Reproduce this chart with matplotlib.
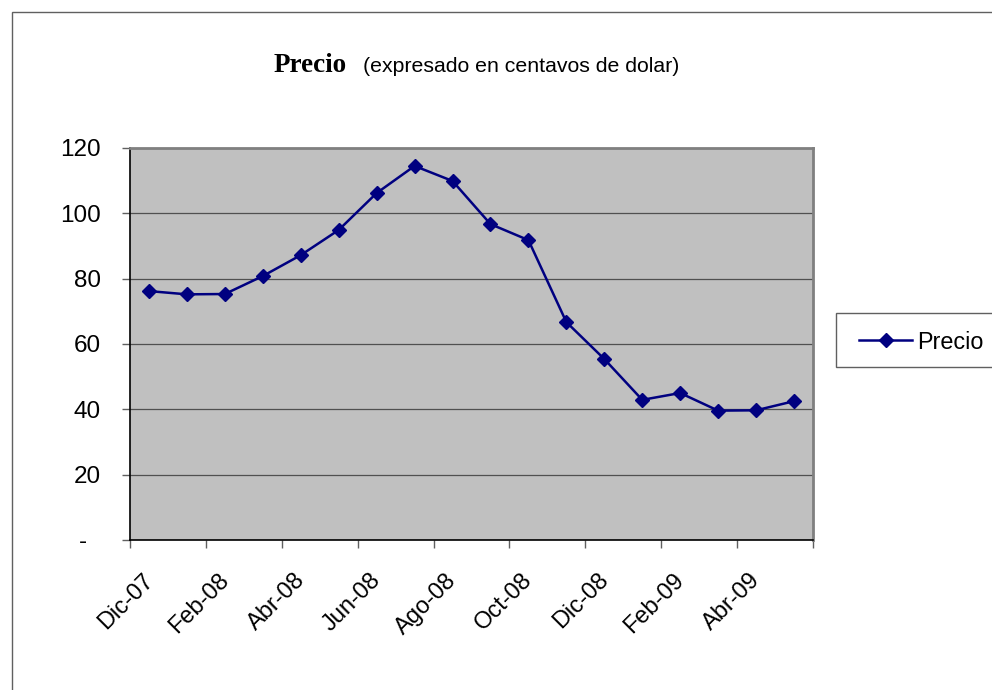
import matplotlib
matplotlib.use("Agg")
import matplotlib.pyplot as plt
import matplotlib.transforms as mtransforms
from matplotlib.patches import Rectangle
from matplotlib.lines import Line2D

# Data
months = ["Dic-07", "Ene-08", "Feb-08", "Mar-08", "Abr-08", "May-08", "Jun-08", "Jul-08",
          "Ago-08", "Sep-08", "Oct-08", "Nov-08", "Dic-08", "Ene-09", "Feb-09", "Mar-09",
          "Abr-09", "May-09"]
precio = [76.2, 75.2, 75.3, 80.8, 87.2, 94.9, 106.2, 114.5, 109.9, 96.7, 91.8, 66.7,
          55.4, 42.9, 45.0, 39.6, 39.7, 42.5]
y_ticks = [0, 20, 40, 60, 80, 100, 120]
y_labels = ["-  ", "20", "40", "60", "80", "100", "120"]
x_tick_labels = ["Dic-07", "Feb-08", "Abr-08", "Jun-08", "Ago-08", "Oct-08", "Dic-08", "Feb-09", "Abr-09"]

W, H = 992, 690
fig = plt.figure(figsize=(W / 100, H / 100), dpi=100)
fig.patch.set_facecolor("white")

# outer chart border (extends beyond right/bottom)
fig.add_artist(Rectangle((12 / W, -0.05), 1.1, (H - 12) / H + 0.05, transform=fig.transFigure,
                         fill=False, edgecolor="#606060", linewidth=1.0))

left, right, top, bottom = 130, 813, 148, 540
ax = fig.add_axes([left / W, (H - bottom) / H, (right - left) / W, (bottom - top) / H])
ax.set_facecolor("#C0C0C0")

n = len(precio)
xs = [i + 0.5 for i in range(n)]
ax.plot(xs, precio, color="#000080", linewidth=1.8, marker="D", markersize=7,
        markerfacecolor="#000080", markeredgecolor="#000080", zorder=3, clip_on=False)

ax.set_xlim(0, n)
ax.set_ylim(0, 120)
ax.set_yticks(y_ticks)
ax.set_yticklabels(y_labels)
ax.yaxis.grid(True, color="#505050", linewidth=0.9)
ax.set_axisbelow(True)

ax.set_xticks(list(range(0, n + 1, 2)))
ax.set_xticklabels(x_tick_labels + [""])

for s in ["top", "right"]:
    ax.spines[s].set_color("#808080")
    ax.spines[s].set_linewidth(2.0)
for s in ["left", "bottom"]:
    ax.spines[s].set_color("black")
    ax.spines[s].set_linewidth(1.2)

ax.tick_params(axis="both", direction="out", length=6, width=1, color="#606060",
               labelsize=17.5, labelcolor="black")
ax.tick_params(axis="y", pad=15)
for lab in ax.get_yticklabels():
    lab.set_fontfamily("Liberation Sans")

offset = mtransforms.ScaledTranslation(12 / 100, -16 / 100, fig.dpi_scale_trans)
for lab in ax.get_xticklabels():
    lab.set_fontfamily("Liberation Sans")
    lab.set_fontsize(17)
    lab.set_rotation(45)
    lab.set_rotation_mode("anchor")
    lab.set_ha("right")
    lab.set_va("top")
    lab.set_transform(lab.get_transform() + offset)

# Title
fig.text(274 / W, 1 - 72 / H, "Precio", fontfamily="Liberation Serif", fontweight="bold",
         fontsize=19.5, ha="left", va="baseline")
fig.text(363 / W, 1 - 72 / H, "(expresado en centavos de dolar)", fontfamily="Liberation Sans",
         fontsize=15.3, ha="left", va="baseline")

# Legend
fig.add_artist(Rectangle((836 / W, 1 - 367 / H), 0.2, 54 / H, transform=fig.transFigure,
                         facecolor="white", edgecolor="#606060", linewidth=1.0))
fig.add_artist(Line2D([859 / W, 912 / W], [1 - 340 / H, 1 - 340 / H], transform=fig.transFigure,
                      color="#000080", linewidth=1.8))
fig.add_artist(Line2D([886 / W], [1 - 340 / H], transform=fig.transFigure, marker="D",
                      markersize=7, color="#000080"))
fig.text(917 / W, 1 - 340 / H, "Precio", fontfamily="Liberation Sans", fontsize=16.8,
         ha="left", va="center_baseline")

fig.savefig("out.png", dpi=100)
